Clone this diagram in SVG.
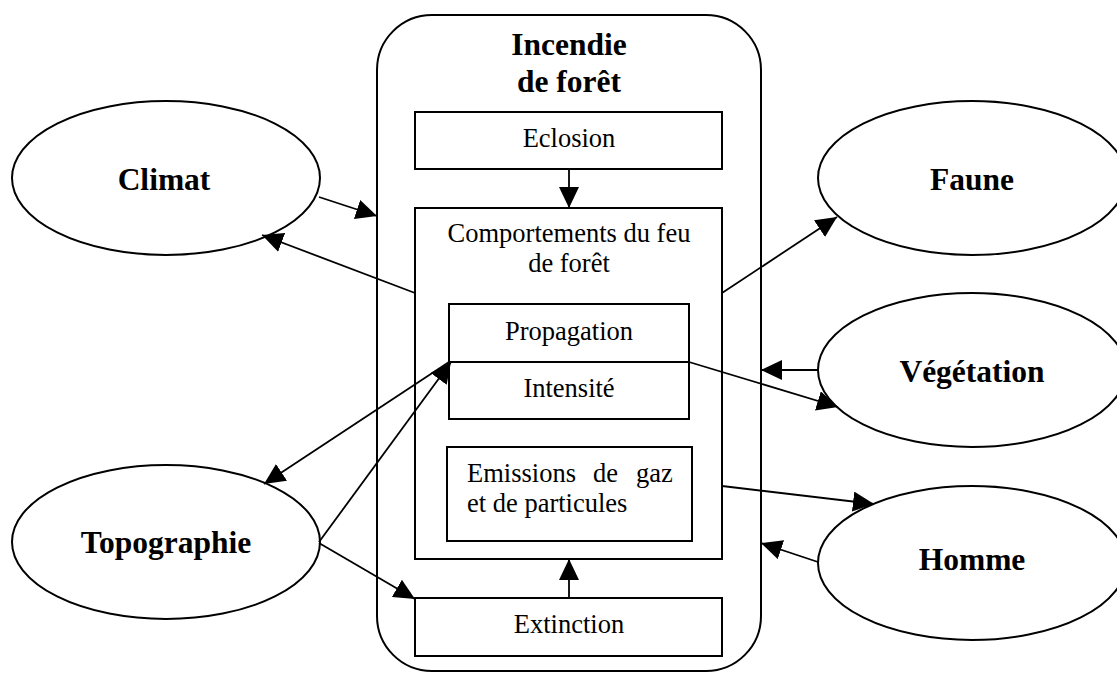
<svg xmlns="http://www.w3.org/2000/svg" width="1117" height="673" viewBox="0 0 1117 673">
<style>
.shape{fill:#fff;stroke:#000;stroke-width:2}
.t{font-family:"Liberation Serif","Times New Roman",serif;font-size:26.5px;fill:#000}
.b{font-family:"Liberation Serif","Times New Roman",serif;font-size:31.5px;font-weight:bold;fill:#000}
.c{text-anchor:middle}
.ln{fill:none;stroke:#000;stroke-width:1.8}
</style>
<defs>
<marker id="ah" markerUnits="userSpaceOnUse" markerWidth="21" markerHeight="20" refX="21" refY="10" orient="auto">
<path d="M0,0 L21,10 L0,20 z" fill="#000"/>
</marker>
</defs>
<rect width="1117" height="673" fill="#fff"/>
<g id="incendie">
<rect class="shape" x="377" y="15" width="384" height="656" rx="55" ry="55"/>
<text class="b c" x="569" y="55">Incendie</text>
<text class="b c" x="569" y="92">de forêt</text>
</g>
<g id="eclosion">
<rect class="shape" x="415" y="112" width="307" height="57"/>
<text class="t c" x="569" y="147">Eclosion</text>
</g>
<g id="comportements">
<rect class="shape" x="415" y="208" width="307" height="351"/>
<text class="t c" x="569" y="242">Comportements du feu</text>
<text class="t c" x="569" y="272">de forêt</text>
</g>
<g id="propagation">
<rect class="shape" x="449" y="304" width="240" height="58"/>
<text class="t c" x="569" y="340">Propagation</text>
</g>
<g id="intensite">
<rect class="shape" x="449" y="362" width="240" height="57"/>
<text class="t c" x="569" y="397">Intensité</text>
</g>
<g id="emissions">
<rect class="shape" x="447" y="447" width="245" height="94"/>
<text class="t" y="482"><tspan x="467">Emissions</tspan><tspan x="593">de</tspan><tspan x="636">gaz</tspan></text>
<text class="t" x="467" y="512">et de particules</text>
</g>
<g id="extinction">
<rect class="shape" x="415" y="598" width="307" height="58"/>
<text class="t c" x="569" y="633">Extinction</text>
</g>
<g id="climat">
<ellipse class="shape" cx="166" cy="178" rx="154" ry="77"/>
<text class="b c" x="164" y="190">Climat</text>
</g>
<g id="topographie">
<ellipse class="shape" cx="166" cy="542" rx="154" ry="77"/>
<text class="b c" x="166" y="553">Topographie</text>
</g>
<g id="faune">
<ellipse class="shape" cx="972" cy="178" rx="154" ry="77"/>
<text class="b c" x="972" y="190">Faune</text>
</g>
<g id="vegetation">
<ellipse class="shape" cx="972" cy="370" rx="154" ry="77"/>
<text class="b c" x="972" y="382">Végétation</text>
</g>
<g id="homme">
<ellipse class="shape" cx="972" cy="563" rx="154" ry="77"/>
<text class="b c" x="972" y="570">Homme</text>
</g>
<g id="connectors">
<line class="ln" x1="569" y1="169" x2="569" y2="208" marker-end="url(#ah)"/>
<line class="ln" x1="569" y1="598" x2="569" y2="559" marker-end="url(#ah)"/>
<line class="ln" x1="319" y1="197" x2="377" y2="216" marker-end="url(#ah)"/>
<line class="ln" x1="415" y1="293" x2="262" y2="235" marker-end="url(#ah)"/>
<line class="ln" x1="722" y1="293" x2="837" y2="217" marker-end="url(#ah)"/>
<line class="ln" x1="818" y1="370" x2="761" y2="370" marker-end="url(#ah)"/>
<line class="ln" x1="689" y1="362" x2="838" y2="407" marker-end="url(#ah)"/>
<line class="ln" x1="722" y1="486" x2="874" y2="504" marker-end="url(#ah)"/>
<line class="ln" x1="818" y1="562" x2="761" y2="543" marker-end="url(#ah)"/>
<line class="ln" x1="319" y1="543" x2="415" y2="599" marker-end="url(#ah)"/>
<line class="ln" x1="319" y1="542" x2="451" y2="362" marker-end="url(#ah)"/>
<line class="ln" x1="449" y1="362" x2="264" y2="484" marker-end="url(#ah)"/>
</g>
</svg>
